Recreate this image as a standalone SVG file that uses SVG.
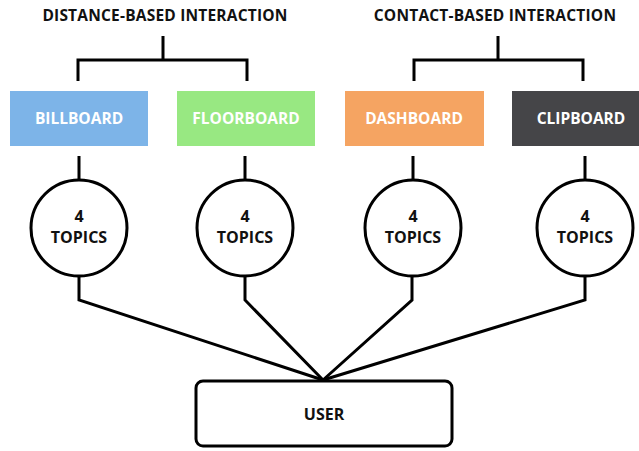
<svg xmlns="http://www.w3.org/2000/svg" width="639" height="451" viewBox="0 0 639 451">
  <style>
    text { font-family: "Open Sans", "Noto Sans", "DejaVu Sans", sans-serif; font-weight: bold; text-anchor: middle; }
    .title { font-size: 15.5px; letter-spacing: 0.2px; fill: #111; }
    .box-label { font-size: 15.5px; fill: #fff; }
    .topic-label { font-size: 16px; fill: #111; }
    .user-label { font-size: 16px; fill: #111; }
    .wire { fill: none; stroke: #000; stroke-width: 3; stroke-linejoin: miter; }
    .topic { fill: #fff; stroke: #000; stroke-width: 3; }
  </style>
  <rect width="639" height="451" fill="#fff"/>

  <!-- category headings -->
  <g id="distance-based">
    <text class="title" x="165" y="21">DISTANCE-BASED INTERACTION</text>
  </g>
  <g id="contact-based">
    <text class="title" x="495" y="21">CONTACT-BASED INTERACTION</text>
  </g>

  <!-- connectors -->
  <g id="connectors" class="wire">
    <path d="M163 36 V60 M78 81 V60 H247 V81"/>
    <path d="M498 36 V60 M414 81 V60 H583 V81"/>
    <path d="M79 156 V180 M245 156 V180 M413 156 V180 M585 156 V180"/>
    <path d="M79 276 V300 L323 380"/>
    <path d="M245 276 V300 L323 380"/>
    <path d="M412 276 V300 L323 380"/>
    <path d="M585 276 V300 L323 380"/>
  </g>

  <!-- interfaces -->
  <g id="billboard">
    <rect x="10" y="91" width="138" height="55" fill="#7db4e8"/>
    <text class="box-label" x="79" y="124">BILLBOARD</text>
  </g>
  <g id="floorboard">
    <rect x="177" y="91" width="138" height="55" fill="#98e882"/>
    <text class="box-label" x="246" y="124">FLOORBOARD</text>
  </g>
  <g id="dashboard">
    <rect x="345" y="91" width="139" height="55" fill="#f5a462"/>
    <text class="box-label" x="414" y="124">DASHBOARD</text>
  </g>
  <g id="clipboard">
    <rect x="512" y="91" width="140" height="55" fill="#454548"/>
    <text class="box-label" x="581" y="124">CLIPBOARD</text>
  </g>

  <!-- topic counts -->
  <g id="topics-billboard">
    <circle class="topic" cx="79" cy="228" r="48"/>
    <text class="topic-label" x="79" y="222">4</text>
    <text class="topic-label" x="79" y="243">TOPICS</text>
  </g>
  <g id="topics-floorboard">
    <circle class="topic" cx="245" cy="228" r="48"/>
    <text class="topic-label" x="245" y="222">4</text>
    <text class="topic-label" x="245" y="243">TOPICS</text>
  </g>
  <g id="topics-dashboard">
    <circle class="topic" cx="413" cy="228" r="48"/>
    <text class="topic-label" x="413" y="222">4</text>
    <text class="topic-label" x="413" y="243">TOPICS</text>
  </g>
  <g id="topics-clipboard">
    <circle class="topic" cx="585" cy="228" r="48"/>
    <text class="topic-label" x="585" y="222">4</text>
    <text class="topic-label" x="585" y="243">TOPICS</text>
  </g>

  <!-- user -->
  <g id="user">
    <rect x="196" y="381" width="256" height="65" rx="7" fill="#fff" stroke="#000" stroke-width="3"/>
    <text class="user-label" x="324" y="420">USER</text>
  </g>
</svg>
